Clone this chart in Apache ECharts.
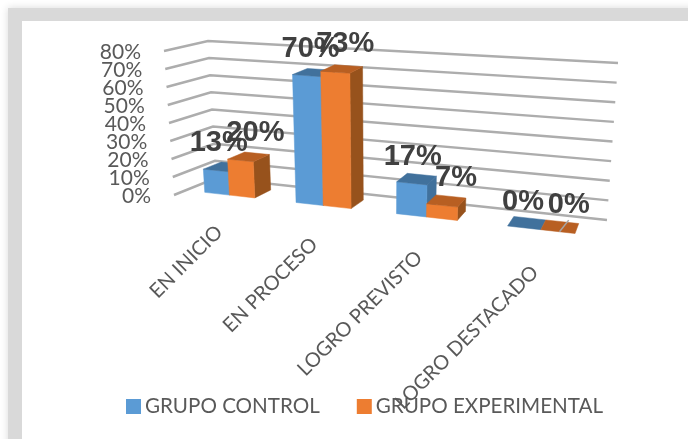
<!DOCTYPE html>
<html>
<head>
<meta charset="utf-8">
<style>
  html, body { margin: 0; padding: 0; background: #fff; }
  #chart { width: 688px; height: 439px; }
</style>
</head>
<body>
<div id="chart"></div>
<script src="https://cdn.jsdelivr.net/npm/echarts@6/dist/echarts.min.js"></script>
<script>
const categories = ['EN INICIO', 'EN PROCESO', 'LOGRO PREVISTO', 'LOGRO DESTACADO'];
const grupoControl = [13, 70, 17, 0];
const grupoExperimental = [20, 73, 7, 0];
const yTicks = [0, 10, 20, 30, 40, 50, 60, 70, 80];

const textColor = '#595959';
const sansFont = 'Lato, "Open Sans", sans-serif';

// corners of the 3d box: front/back, left/right, at 0% and at 80%
const box = {
  floor: { fl: [174, 195], bl: [216, 178], br: [607, 220], fr: [601, 243] },
  roof: { fl: [164, 51], bl: [208, 41], br: [618, 63], fr: [612, 85] }
};
const perspective = 1.22;
const barFront = 0.28;
const barBack = 0.72;
const barShare = 0.28;

// data labels sit where excel left them, one nudge per series and category
const labelNudge = [
  [[3, -27], [4, -27], [1, -26], [-1, -26]],
  [[15, -27], [10, -28], [14, -27], [11, -27]]
];

const mix = (a, b, t) => [a[0] + (b[0] - a[0]) * t, a[1] + (b[1] - a[1]) * t];

// u: 0..1 along categories, d: 0 front..1 back, v: 0..1 of the value axis
function project(u, d, v) {
  const w = u / (u + (1 - u) * perspective);
  const plane = (p) => mix(mix(p.fl, p.bl, d), mix(p.fr, p.br, d), w);
  return mix(plane(box.floor), plane(box.roof), v);
}

function toBox(params, api, catIndex, value) {
  const cs = params.coordSys;
  const p = api.coord([catIndex, value]);
  return { u: (p[0] - cs.x) / cs.width, v: (cs.y + cs.height - p[1]) / cs.height };
}

function quad(points, fill) {
  return { type: 'polygon', shape: { points }, style: { fill, stroke: fill, lineWidth: 0.5 } };
}

function barItem(seriesPos, front, top, side) {
  return function (params, api) {
    const cat = api.value(0);
    const val = api.value(1);
    const cs = params.coordSys;
    const c = toBox(params, api, cat, val);
    const step = api.size([1, 0])[0] * barShare / cs.width;
    const u0 = c.u + (seriesPos - 1) * step;
    const u1 = u0 + step;
    const v = c.v;
    const P = project;
    const children = [];
    if (val > 0) {
      children.push(quad([P(u1, barFront, 0), P(u1, barBack, 0), P(u1, barBack, v), P(u1, barFront, v)], side));
      children.push(quad([P(u0, barFront, 0), P(u1, barFront, 0), P(u1, barFront, v), P(u0, barFront, v)], front));
    }
    children.push(quad([P(u0, barFront, v), P(u1, barFront, v), P(u1, barBack, v), P(u0, barBack, v)], top));
    if (val === 0 && seriesPos === 1) {
      // stray grey tick across the flat orange bar
      const a = P(u0 + step * 0.55, barFront, 0);
      const b = P(u0 + step * 0.67, barBack + 0.1, 0);
      children.push({
        type: 'line',
        shape: { x1: a[0], y1: a[1], x2: b[0], y2: b[1] },
        style: { stroke: '#a6a6a6', lineWidth: 1.5 }
      });
    }
    const anchor = P((u0 + u1) / 2, barFront, v);
    const nudge = labelNudge[seriesPos][cat];
    children.push({
      type: 'text',
      z2: 100,
      style: {
        x: anchor[0] + nudge[0],
        y: anchor[1] + nudge[1],
        text: val + '%',
        align: 'center',
        verticalAlign: 'middle',
        fill: '#404040',
        font: 'bold 29px "Liberation Sans", Arial, sans-serif'
      }
    });
    return { type: 'group', children };
  };
}

function wallItem(params, api) {
  const v = toBox(params, api, 0, api.value(0)).v;
  const a = project(0, 0, v);
  const b = project(0, 1, v);
  const c = project(1, 1, v);
  return {
    type: 'group',
    children: [
      {
        type: 'polyline',
        shape: { points: [a, b, c] },
        style: { fill: 'none', stroke: '#adadad', lineWidth: 2.5 }
      },
      {
        type: 'text',
        style: {
          x: a[0] - 23,
          y: a[1] + 1,
          text: api.value(0) + '%',
          align: 'right',
          verticalAlign: 'middle',
          fill: textColor,
          font: '21px ' + sansFont
        }
      }
    ]
  };
}

function categoryItem(params, api) {
  const i = api.value(0);
  const c = toBox(params, api, i, 0);
  const p = project(c.u, 0, 0);
  return {
    type: 'text',
    x: p[0] + 1 - 4 * c.u,
    y: p[1] + 28 + 6 * c.u,
    rotation: Math.PI / 4,
    style: {
      x: 0,
      y: 0,
      text: categories[i],
      align: 'right',
      verticalAlign: 'middle',
      fill: textColor,
      font: '20px ' + sansFont
    }
  };
}

const chart = echarts.init(document.getElementById('chart'), null, { renderer: 'canvas' });

chart.setOption({
  animation: false,
  backgroundColor: '#ffffff',
  graphic: [
    {
      type: 'rect', silent: true, z: -10,
      shape: { x: 8, y: 8, width: 720, height: 480 },
      style: { fill: '#d9d9d9', shadowBlur: 8, shadowColor: '#d9d9d9' }
    },
    {
      type: 'rect', silent: true, z: -9,
      shape: { x: 22, y: 21, width: 720, height: 480 },
      style: { fill: '#ffffff' }
    }
  ],
  legend: {
    left: 121,
    top: 391,
    itemWidth: 15,
    itemHeight: 15,
    itemGap: 37,
    icon: 'rect',
    data: ['GRUPO CONTROL', 'GRUPO EXPERIMENTAL'],
    textStyle: { color: textColor, fontSize: 20.6, fontFamily: 'Lato', padding: [0, 0, 0, -1] }
  },
  grid: { left: 215, right: 81, top: 41, bottom: 219 },
  xAxis: { type: 'category', data: categories, show: false },
  yAxis: { type: 'value', min: 0, max: 80, interval: 10, show: false },
  series: [
    {
      type: 'custom',
      coordinateSystem: 'cartesian2d',
      data: yTicks.map((t) => [t]),
      encode: { y: 0 },
      renderItem: wallItem,
      z: 1,
      silent: true
    },
    {
      type: 'custom',
      coordinateSystem: 'cartesian2d',
      data: categories.map((c, i) => [i]),
      encode: { x: 0 },
      renderItem: categoryItem,
      z: 1,
      silent: true
    },
    {
      name: 'GRUPO CONTROL',
      type: 'custom',
      coordinateSystem: 'cartesian2d',
      data: grupoControl.map((v, i) => [i, v]),
      encode: { x: 0, y: 1 },
      itemStyle: { color: '#5b9bd5' },
      renderItem: barItem(0, '#5b9bd5', '#41719c', '#41719c'),
      z: 3,
      silent: true
    },
    {
      name: 'GRUPO EXPERIMENTAL',
      type: 'custom',
      coordinateSystem: 'cartesian2d',
      data: grupoExperimental.map((v, i) => [i, v]),
      encode: { x: 0, y: 1 },
      itemStyle: { color: '#ed7d31' },
      renderItem: barItem(1, '#ed7d31', '#b85f22', '#97521c'),
      z: 4,
      silent: true
    }
  ]
});

window.addEventListener('resize', () => chart.resize());
</script>
</body>
</html>
